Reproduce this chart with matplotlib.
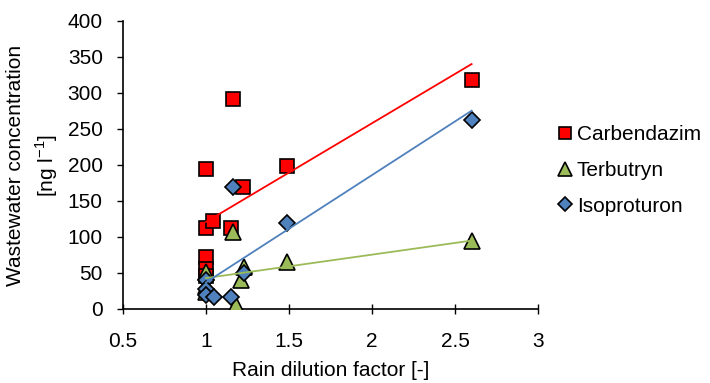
import numpy as np
import matplotlib
matplotlib.use("Agg")
import matplotlib.pyplot as plt

plt.rcParams["font.family"] = ["Liberation Sans", "DejaVu Sans"]

# ---------- 数据 ----------
carb_x = [1.0, 1.0, 1.0, 1.0, 1.0, 1.04, 1.15, 1.16, 1.22, 1.49, 2.6]
carb_y = [194, 113, 72, 55, 46, 122, 113, 292, 169, 199, 318]

terb_x = [1.0, 1.0, 1.0, 1.16, 1.21, 1.23, 1.18, 1.49, 2.6]
terb_y = [51, 32, 24, 107, 40, 58, 6, 65, 95]

iso_x = [1.0, 1.0, 1.0, 1.05, 1.15, 1.16, 1.23, 1.49, 2.6]
iso_y = [40, 28, 20, 17, 17, 169, 50, 119, 263]

# 线性趋势线 (斜率, 截距)
carb_fit = (137.0, -16.0)
terb_fit = (32.5, 10.5)
iso_fit = (149.0, -112.0)

x_ticks = [0.5, 1, 1.5, 2, 2.5, 3]
x_ticklabels = ["0.5", "1", "1.5", "2", "2.5", "3"]
y_ticks = [0, 50, 100, 150, 200, 250, 300, 350, 400]

RED = "#FF0000"
GREEN = "#9BBB59"
BLUE = "#4F81BD"
FS = 15

fig = plt.figure(figsize=(7.1, 3.83), dpi=100)
ax = fig.add_axes([123 / 710, 74 / 383, 415 / 710, 288 / 383])

series = [
    ("Carbendazim", carb_x, carb_y, carb_fit, "s", 10.5, RED),
    ("Terbutryn", terb_x, terb_y, terb_fit, "^", 12, GREEN),
    ("Isoproturon", iso_x, iso_y, iso_fit, "D", 8.5, BLUE),
]

for i, (name, xs, ys, fit, mk, ms, col) in enumerate(series):
    ax.plot(xs, ys, linestyle="none", marker=mk, markersize=ms,
            markerfacecolor=col, markeredgecolor="black", markeredgewidth=1.2,
            label=name, zorder=3 + i)

# 趋势线画在散点之上
for i, (name, xs, ys, fit, mk, ms, col) in enumerate(series):
    xx = np.array([min(xs), max(xs)])
    ax.plot(xx, fit[0] * xx + fit[1], color=col, linewidth=1.3, zorder=7)

ax.set_xlim(0.5, 3)
ax.set_ylim(0, 400)
ax.set_xticks(x_ticks)
ax.set_xticklabels(x_ticklabels)
ax.set_yticks(y_ticks)
ax.tick_params(axis="x", labelsize=FS, direction="inout", length=7, width=1, pad=13)
ax.tick_params(axis="y", labelsize=FS, direction="out", length=4.5, width=1, pad=10)
for side in ["top", "right"]:
    ax.spines[side].set_visible(False)
for side in ["left", "bottom"]:
    ax.spines[side].set_linewidth(1.2)
    ax.spines[side].set_color("black")

ax.set_xlabel("Rain dilution factor [-]", fontsize=FS, labelpad=7)
ax.set_ylabel("Wastewater concentration\n[ng l$^{\\mathregular{-1}}$]", fontsize=FS,
              linespacing=1.4)
ax.yaxis.set_label_coords(-0.152, 0.5)

ax.legend(loc="center left", bbox_to_anchor=(557 / 710, 0.555), bbox_transform=fig.transFigure,
          frameon=False, fontsize=FS, handletextpad=0.15, labelspacing=0.8,
          handlelength=0.8, borderpad=0, borderaxespad=0, markerscale=0.85)

fig.savefig("out.png", dpi=100)
